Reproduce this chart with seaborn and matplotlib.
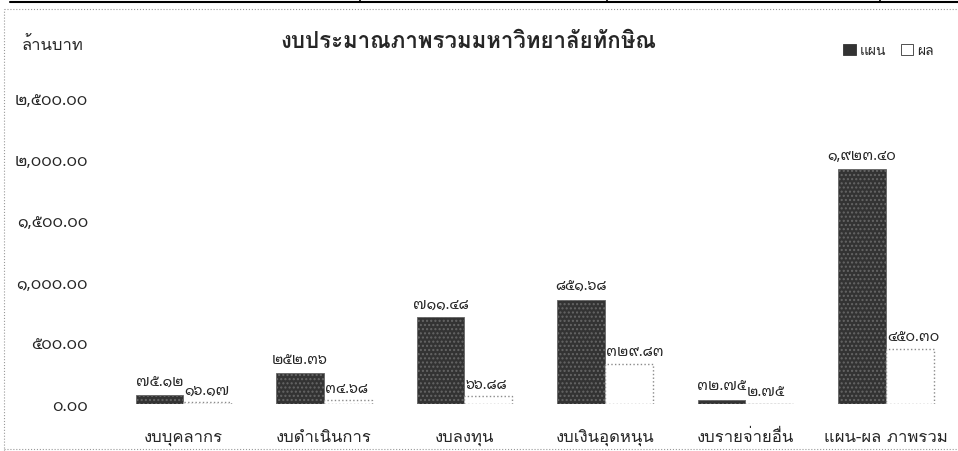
import matplotlib
matplotlib.use("Agg")
import matplotlib.pyplot as plt
import matplotlib.ticker as mticker
from matplotlib.lines import Line2D
import pandas as pd
import seaborn as sns

# data (ล้านบาท)
categories = ["งบบุคลากร", "งบดำเนินการ", "งบลงทุน", "งบเงินอุดหนุน", "งบรายจ่ายอื่น", "แผน-ผล ภาพรวม"]
plan = [75.12, 252.36, 711.48, 851.68, 32.75, 1923.40]
result = [16.17, 34.68, 66.88, 329.83, 2.75, 450.30]
series_names = ["แผน", "ผล"]
yticks = [0, 500, 1000, 1500, 2000, 2500]

THAI = str.maketrans("0123456789", "๐๑๒๓๔๕๖๗๘๙")
NUM_FONT = ["Noto Sans Thai Looped", "DejaVu Sans"]


def thai_num(v):
    return f"{v:,.2f}".translate(THAI)


df = pd.DataFrame({
    "category": categories * 2,
    "series": [series_names[0]] * len(categories) + [series_names[1]] * len(categories),
    "value": plan + result,
})

sns.set_style("white")
plt.rcParams["font.family"] = ["Loma", "Noto Sans Thai Looped", "DejaVu Sans"]

fig = plt.figure(figsize=(9.58, 4.52), dpi=100)
ax = fig.add_axes([0.118, 0.104, 0.88, 0.677])

sns.barplot(data=df, x="category", y="value", hue="series", hue_order=series_names,
            palette={"แผน": "#333333", "ผล": "white"}, width=0.68, gap=0,
            edgecolor="#333333", linewidth=0.6, saturation=1, ax=ax)

# styling of the two series
plan_bars, result_bars = ax.containers[0], ax.containers[1]
for b in plan_bars:
    b.set_hatch("....")
    b.set_edgecolor("#666666")
for b in result_bars:
    b.set_edgecolor("#8a8a8a")
    b.set_linestyle(":")
    b.set_linewidth(1.0)

# value labels
for b in plan_bars:
    ax.annotate(thai_num(b.get_height()), (b.get_x() + b.get_width() / 2, b.get_height()),
                xytext=(0, 4), textcoords="offset points", ha="center", va="bottom",
                fontsize=10.5, family=NUM_FONT)
for b in result_bars:
    ax.annotate(thai_num(b.get_height()), (b.get_x(), b.get_height()),
                xytext=(1, 3), textcoords="offset points", ha="left", va="bottom",
                fontsize=10.5, family=NUM_FONT)

ax.set_ylim(0, 2500)
ax.set_xlim(-0.5, len(categories) - 0.5)
ax.set_yticks(yticks)
ax.yaxis.set_major_formatter(mticker.FuncFormatter(lambda v, p: thai_num(v)))
ax.set_xlabel("")
ax.set_ylabel("")
ax.tick_params(axis="y", length=0, pad=18, labelsize=11.5)
ax.tick_params(axis="x", length=0, pad=18, labelsize=12)
for lab in ax.get_yticklabels():
    lab.set_family(NUM_FONT)
sns.despine(ax=ax, left=True, bottom=True)

sns.move_legend(ax, "center", bbox_to_anchor=(0.92, 1.155), ncol=2, frameon=False,
                title=None, handlelength=0.9, handleheight=0.9, columnspacing=1.0,
                handletextpad=0.3, fontsize=10)

fig.text(0.489, 0.907, "งบประมาณภาพรวมมหาวิทยาลัยทักษิณ", ha="center", va="center",
         fontsize=16, fontweight="bold")
fig.text(0.023, 0.9, "ล้านบาท", ha="left", va="center", fontsize=12)

# scanned page border
fig.add_artist(Line2D([0.01, 1.0], [0.993, 0.993], color="black", lw=1.5))
fig.add_artist(Line2D([0.004, 1.0], [0.978, 0.978], color="#999999", lw=0.8, ls=":"))
fig.add_artist(Line2D([0.004, 0.004], [0.0, 0.978], color="#999999", lw=0.8, ls=":"))
fig.add_artist(Line2D([0.004, 1.0], [0.004, 0.004], color="#999999", lw=0.8, ls=":"))
for xp in [0.376, 0.634, 0.919]:
    fig.add_artist(Line2D([xp, xp], [0.993, 1.0], color="black", lw=1.2))

fig.savefig("out.png", dpi=100)
